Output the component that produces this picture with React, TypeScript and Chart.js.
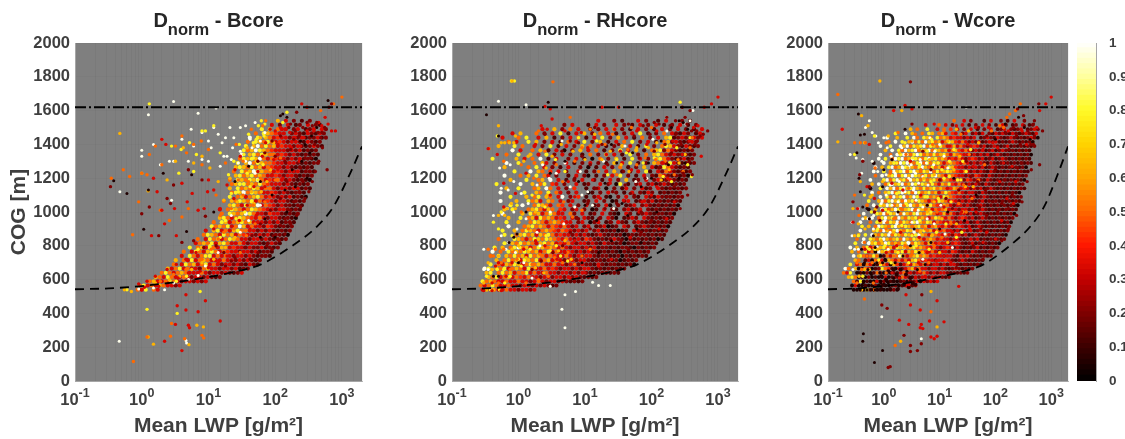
import React, { useEffect, useRef } from "react";
import { Chart, registerables } from "chart.js";

Chart.register(...registerables);

// ---------- shared values ----------
const yTicks = [0, 200, 400, 600, 800, 1000, 1200, 1400, 1600, 1800, 2000];
const xExponents = [-1, 0, 1, 2, 3];
const cbTicks = [0, 0.1, 0.2, 0.3, 0.4, 0.5, 0.6, 0.7, 0.8, 0.9, 1];
const cmapStops: number[][] = [
  [0, 0, 0, 0], [0.1, 62, 0, 0], [0.2, 128, 0, 0], [0.3, 196, 0, 0], [0.4, 255, 24, 0], [0.5, 255, 105, 0],
  [0.6, 255, 165, 0], [0.7, 255, 212, 0], [0.8, 255, 250, 40], [0.9, 255, 255, 160], [1, 255, 255, 255],
];
const topLineY = 1620;
const curveX = [0.1, 0.32, 1, 3.2, 10, 24, 53, 75, 188, 422, 750, 1334, 2000];
const curveY = [543, 548, 562, 585, 615, 645, 680, 707, 805, 914, 1033, 1230, 1388];

const levelK = 0.05, levelM = 0.2, levelR = 0.33, levelO = 0.5, levelA = 0.63, levelY = 0.78, levelW = 0.98;

// Dense part of each cloud, as read row by row: one row per COG step, one letter per LWP step, right-anchored.
const denseCodes: Record<string, number> = { k: 0.05, d: 0.13, m: 0.2, r: 0.33, e: 0.42, o: 0.5, a: 0.63, y: 0.78, w: 0.98 };
const denseRowCog = [540,565,590,615,640,665,690,715,740,765,790,815,840,865,890,915,940,965,990,1015,1040,1065,1090,1115,1140,1165,1190,1215,1240,1265,1290,1315,1340,1365,1390,1415,1440,1465,1490,1515,1540];
const denseRowEnd = [14,20,26,30,35,37,39,40,42,43,44,45,46,47,47,48,48,49,49,50,50,51,51,51,52,52,52,53,53,53,54,54,54,54,55,55,56,56,56,55,53];
const denseLogStart = -0.6, denseLogStep = 0.06;

const bRows = ["ory.or","oyroraorrmr","oarroyormrrmrmr","aoryorrormrrmrmdm","oyoroaorrrormrrmrmdmr","aroyrorrmoarrmrrmrdmm","o.ryoaroyrormrrmrmdrmd","a.oryroaorrrorrmrmrmdm","r.yoroayrorormrrmrmdmmd","o.ryorayoroerrmrrmrdmmd","y.oaryoraorerrmrmmrdmdm",".roaoyrayorrormrrmdmrmd","o.ryoaroyaorrmrrmrmdmdm",".oyaoryoaroerrmrmrdmmdk","r.ayrorayoorrmrmrmdmdm",".yoaoyrowarorrmermdmdm","o.yaroayoarrrmrmrdmmd",".ayoroyaoerormrrmdmdk","o.yaoawyorrmerrmdmdm","r.oyaoroyaoerrmrrmdmd",".ayoryoawroermrmmdmd","o.aoyaoyrorermrrmdmdm","y.oaroayorermrmrdmdk",".oyawoyaorrermrmdmmd","a.yoaoyaroormrrmrmdmd",".oayyoaoyoerrrmrmdmdm","o.yaoyaworerormrmdmdk",".ayoayoaorrermrrmdmdm","o.yoawyaoorermrmrdmmd",".ayaoyoaroerrmrmdmdmd","y.awoyaooerrmrrmdmdmm",".oyayaworoerrmrmrdmdk","w.ayoyaoorermrmdmdmd",".yoawyaoerrrmrmrdmdm","y.awoyoarerrmrmdmrmd",".o.yaoyorermrrmdrmdm","w.y.aorerrmrmrdmmrdm",".o.yaoerr.mrmdrmdrm","y.a.orr.mr.dmr.rm",".r.m.r.dm.r.md","a.r.m.d.m."];
const rRows = ["rarorrorrmrrmr","oroyorrorrmrrmrmrmdm","yoaorrorrorrmrormrrmrmdmdm",".aoyroaroerorrmrrmrrmrmrmdmdm","ay.oyoarooyrorrorrmrrmrmrmdmdmmdmd","wy.aoyroaoryorrorermrrmrmrrmdmdmdmdm","y.oraoyaroyoaorrorrmrrmrmmdrmdmmdmdmk",".a.oyoaryaoyroarormrrmrrmdmmdmdmkdmdm","o.y.aoyoaryoaoroerrormrmrrmdmmddmkmdmdmd","w.o.yoaoyaoaroyrorrermrmrmmdmdmdkmdmdmdm","y.a.oywoaroyaoaorormrrmrmrdmmdmdmmdkmdmdm","..y.aoyoaorayoarerormrrmrmdrmmdmkdmmdmdmd","o...yaoroyaoyaoerormrmermdmdmrmdkmdmdmdmkd","..y..oayoaraoyorerrmrmrmdmrmdmdmkdmdmmdmdmd","y..a.oyaoroaoeroermrmr.mrdmdmkdm.rmdmdmddm","..w...oayoaoroerormr.mr.dmrkdm.rm.dmrmdmdmk",".y..a..oyaoroaoerr.mr.kmr.dm.rmd.mrmdmdmdmd","..a..y.oaryoaorer.rm.rmd.m.rmk.dmrm.rmdmdmdm","w....a.yoaroyorr.om.r.dm.r.mdk.rm.dmrmdmmdmk",".a.y...oayorao.er.mr.m.kd.r.md.mrdmr.mdmdmdmd","..y..w..oyaor.oe.r.m.r.dm.rk.m.dmr.mrmdmdmdmk",".w...a..yoar.ao.r.mr..dm.r.m.kd.mr.dmrmrdmdmdmd","...y...a.oy.ao.rw.m.e.d.mr.dk.m.r.md.rmdrmdmdmm",".w.....y..ao.y.or.m.r..kd.m.r.m.d.r.mdrm.dmdmdm","..a..y...oa.wo.r.m.e..d.mr.k.m.dr.m.rdm.rmdmdmdm","y.....w..a.oy.er.m..r.dm..r.m.ky.d.mr.mrdmrmdmdm","...a...y..oa.w.r.d.m.r..m.d.r.m.a.dm.r.mrdmrmdmd","..w...o.a.y.or.m..d.r.mk.d.m.r.y.m.d.r.mdormdmdmk","....y...w.ao.e.r.m..r.d.m..r.a.d.m.r.yd.rmormdmdm","..a.....o.y.r.m.d.r..m.k.d.r.m.o.d.m.a.rdmyormdmd","...w..y...o.ar.m..r.d.m.r.m.d.a.r.y.d.m.aormyrmdmdm","y.....a.r.o.w.d.r..m.r.d.k.o.m.a.d.y.r.m.ayormdmrdm","..o..y..a.r.y.m.r.m..d.o.m.a.r.d.y.m.o.ayormrmdmdm","....w.r..o.a.d.r.k.m.a.r.o.d.m.y.r.a.d.oaymormdmdm",".a...y.o..r.m.y.d.r.m.a.o.r.d.m.a.r.d.y.m.oyarmdrmdm","...o.r..y.a.m.r.d.o.r.y.m.a.d.r.o.y.m.r.d.oamrmdmrm","r...o.y..r.a.d.m.r.o.d.r.y.m.a.r.d.o.m.r.aydmrmdrmr","..r.a...o.m.r.y.d.r.a.m.o.r.d.m.r.y.d.m.o.rmdrm.dr","...r..a.m.o.r..d.m.r.o.m.d.r.m.d.r.m.r.m.d.r","...m.r...d.r.m..r.m.d.r.m.r.d.m.r.d.m","..r...m.d...r.m..d.r...m.d"];
const wRows = ["kkdkkdkkdkkdmk","krkkdkkmkdkkdmkdrmdr","odykdkkdkmkdmkdmrdmrmrmrmr","ayokdkmkdkkrkdmdormdrmrrmrmrmdm","ory.kdkmkdomkdkmdrorrmrrormrmrrmdmdmdm","wo.akdorkdmyoedkrmroarorrmrrmrmdmrmdmdm","y.rokorkdyorkaedroraorormrrmrmrrmdmdmdmd",".ao.drkoyrkaorororayorerrmrrermdmrmdmdmd","w.yoroyakdoraoyoroayoaorerrmrrmdrmrmdmdmdm","a.o.yrokwayoraoyraoyaoerormrrmermdmdrmdmdmd","w.a.oyrowayoaryawoayoaoerormrermrmdmdmrdmdmdm",".y...wayoawyoaoyawoyaoraorerrmrermdmrdmdmdmdk","o.w.yaoywaoayowaoyaoroaorerrmrrmdmrmrdmdmdmdm",".a.y.waoyawoyaoyaoywaoraoerormermrdmrmdmdmdmdk","w...ayowaoywaoyawoayoaroeorrmrmrmrdmrdmdmdmdm",".y.a.owyaoywaoyaoayoaroaerormrermrdmrmdmdmdmdm","w..o.yawoyawoyaoywaoyaroerrormrmrdmrmdmdmdmdmk",".a.w.oywayowaoyayoaoroyaerormrermrdmrmdmdmdmdm","w...yawoyawoyaoywaoyaorearormrrmrdmrmdmdmdmdmk",".k.a.wyoawyoaywoyaoaroeoarermrrmrdmrmdmdmdmdmd","o.w.yawyoawoywaoyaoyoeraormrrmrmdmrmdmdmdmdmdk",".y..awoywayowayoyaoroeyaorermrmrmdmrdmdmdmdmdmd","a..w.yowaywoawyoayoaoryaoerrmrmrdmrmdmdmdmdmdm",".w.o.aywoywayowyoayoaroyaerormrrmdrmdmdmdmdmdk","k..y.wawoywaywaoyoayoaoreaorermrmrdmrmdmdmdmdmd",".a.w.oywaywoawyoyaoyoraoyerormrmrmdrmdmdmdmdmdm","w...ywoywayowayoyoayoraoerormermrmdrmdmdmdmdmdk",".o.w.aywoywawyaoyoywaoraoerrmrmermdrmdmdmdmdmdm","w..y.owaywoywaoyawoyoayaoerormrmrmdrmdmdmdmdmdd",".w.a.ywoawywaoywaoyoaroyaerrmrmrmrdmrmdmdmdmdmk","k..w.ayowywaoywoyoyaoroaoerormrmrmdrmdmdmdmdmdmd",".w.y.owywoawyaoywayoaorerormrermrdmrdmrmdmdmdmd","w..o.wywaoywyoaoyoayoraoerrmrmrmrdmrmdmdmdmdmk",".a.w.yowaywoyawoyaoaroaerormrmrdmrdmrmdmdmdmd","w..y..wawoyaywoyaoyorearormrermrdmrmdmrdmdmdmdm",".o.w.y.awoyowayoaroyaerormrmrdmrmrdmdmrmdmdmk","w..a..y.wo.yao.yoaorerrmrmr.dmrmdrmdmrmdmdmrmk","..y..w.a..o.ya.oar.er.mr.mrdr.mdrmrmdrmdmrmdr","...a.o..y..r.o.e.r.m.r.d.m.r.dmr.mdmr.dmrm","..r...o.r.m..r.d.m.r.m.d.rm.dm.r.dm","..o..r.m...d.r..m.d.r..m."];

// ---------- Bcore, single points ----------
const bBlack = [0.38,1185,0.6,1110,1.26,1130,1.07,898,2.1,1230,5.6,1220,4.7,885,130,1580,150,1560,120,1570,620,1660,250,1300,300,1200,200,1150,90,1100,150,1000,100,850,60,850,350,1450,420,1500,280,1400,60,1180,40,1270,25,1180,12,1000,240,1420,330,1350,180,1250,140,1130,70,960];
const bMaroon = [0.34,1150,1,990,1.3,1030,1.8,860,2.7,1050,3,1160,5,1250,8,1190,9,975,2.4,1080,4,820,6,830,8.5,790,13,800,17,760,22,710,30,690,42,720,55,760,75,800,95,860,120,920,140,960,170,1010,190,1060,230,1120,260,1180,300,1260,340,1320,390,1400,440,1470,480,1440,510,1380,450,1300,400,1240,360,1180,320,1120,280,1080,240,1030,210,980,170,930,140,870,115,830,90,780,70,740,200,1480,160,1500,260,1500,300,1530,360,1510,420,1530,120,1450,90,1420,70,1350,55,1300,100,1330,140,1300,170,1370,190,1430,230,1450,280,1320,330,1240,210,1210,240,1260,150,1180,120,1080,85,1010,60,930,45,860,35,790,25,730,18,680,500,1470,550,1500,600,1250,640,1620,700,1640,210,1590,170,1520];
const bRed = [2,1430,2.3,1400,1.5,1200,1.7,1120,2,1010,3.1,1020,4,1170,3.3,860,1.4,860,2.2,930,4.8,1060,5.7,1110,7,1010,8.6,1020,9.7,1120,10,1190,12,1130,12,900,9,840,6.5,760,4.6,720,3.3,690,2.4,660,1.6,620,1.2,590,15,1020,19,1160,25,1250,30,1330,24,1080,29,950,38,1040,48,1150,55,1240,64,1330,72,1410,84,1490,100,1480,120,1500,140,1490,165,1470,200,1440,240,1390,270,1440,300,1480,380,1480,500,1510,560,1560,700,1480,800,1480,620,1520,450,1530,250,1640,300,1620,110,1250,130,1200,160,1290,70,1150,90,1220,42,900,52,980,34,820,26,770,19,740,14,700,10,670,7.5,650,5,640,3.5,610,2.5,580,1.8,560,1.1,555,0.9,575,1,540,2.2,235,4,180,4.6,420,7,410,9,475,15,355,3.4,445,4.6,510,5,330,5.2,315,3.2,335,190,1240,220,1140,230,1300,175,1380,95,1310,110,1400];
const bOrange = [0.35,1200,0.53,1250,0.75,115,0.73,865,0.66,1210,1,1230,1.2,1220,1.9,1010,2.6,950,3.2,1390,4,970,5,1020,6,1400,4.7,1350,7.8,1420,0.9,1060,1.3,1340,2,1280,1.6,1390,8,1280,10,1370,13,1100,15,980,17,880,11,780,8,720,4.6,660,3,630,1.9,590,22,1020,28,1190,33,1300,26,1400,40,1180,47,1040,60,1200,70,1060,50,930,37,860,80,1260,90,1340,100,1190,120,1320,30,760,2.8,340,2.7,265,4.4,250,8.5,255,8,270,4,1450,18,1290,65,1510,44,1490,72,1540,1000,1680,750,1640,480,1600,14,840,24,900,33,1100,1.2,260];
const bAmber = [0.47,1465,1,1230,1.25,1125,2.4,1190,3.2,1300,4.2,1380,6,1290,8,1330,10.5,1260,14,1180,17,1070,21,1200,27,1060,31,950,25,850,18,790,12,720,8,700,5.6,660,3.7,620,2.6,600,1.6,580,34,1270,38,1380,44,1120,52,1300,60,1440,70,1340,48,1050,62,1120,75,1180,85,1250,95,1410,0.55,540,0.7,530,6.7,330,8.4,320,5.1,215,1.5,218,1.25,260];
const bYellow = [1.3,1640,0.6,540,1.2,424,3.4,400,7.5,530,2.8,1390,3.9,1370,5.2,1410,6.6,1340,6,1240,9,1480,12,1510,15,1350,20,1220,24,1300,29,1400,34,1340,38,1230,42,1150,47,1320,52,1430,56,1510,62,1540,68,1450,35,1000,28,1120,22,1110,26,960,18,950,15,850,10.5,800,9,740,7,780,4.7,620,3.3,590,44,1060,55,1190,66,1280,47,1410,40,1460,70,1520,150,1590,130,1530,8,1480,3.6,1230];
const bWhite = [0.47,1120,3,1654,1.26,1575,7,1585,13,1615,1,1365,1.5,1400,1,1330,1.9,1280,2.6,1300,3,1300,2.8,1070,5.5,1490,8,1470,10,1420,12,1500,14,1460,16,1410,19,1330,21,1500,23,1380,18,1440,24,1440,30,1500,36,1510,42,1430,50,1530,60,1420,30,1360,28,1290,22,1310,17,1330,6,1390,8,1310,5,1300,10,1300,15,1270,11,1380,4,1430,70,1470,45,1380,36,1300,50,1230,33,1120,60,1040,40,950,22,980,30,880,14,760,9,680,7,625,5,600,3,580,1.5,550,0.9,545,2.2,540,4.6,240,4.7,225,0.46,235];

// ---------- RHcore, single points ----------
const rBlack = [0.33,1575,2.8,1650,0.5,1450,0.72,820,0.85,850,1,700,0.95,870,1.3,1000,3,1230,5,1300,8,1180,10,1040,15,950,20,1170,30,1290,36,1050,44,980,60,900,70,1150,90,1290,120,1000,140,1420,200,1500,260,1540,300,1530,350,1490,180,1280,260,1200,320,1290,25,830,40,870,70,820,16,760,9,700,0.5,620,0.42,620,25,1400,52,1350,100,1200];
const rMaroon = [2.5,1460,4.5,1360,6,1420,7,1200,9,1330,12,1280,15,1140,18,1400,22,1280,26,1120,32,1400,38,1240,48,1110,55,1450,65,1320,80,1200,95,1460,110,1360,130,1260,160,1400,190,1510,230,1460,280,1400,340,1520,400,1480,450,1400,490,1420,540,1450,480,1480,230,1540,170,1560,130,1520,200,1350,90,1060,70,1000,55,1100,40,1160,30,1050,20,1020,16,960,12,900,25,940,35,830,45,780,70,880,100,950,130,1040,170,1090,220,1150,300,1230,370,1300,410,1220,350,1100,270,1020,700,1480,600,1460,290,1620,380,1600,320,1560,11,1050,8,960,6,880,4.6,800,3.3,760,2.2,710,1.6,660,8,1410,14,1500,45,1520,75,1510,110,1530];
const rRed = [0.35,1375,0.48,1340,0.6,1170,0.5,700,0.6,1030,0.9,1110,1.3,1230,1.8,1400,2.2,1510,2.7,1490,3.2,1410,3.2,1550,5,1480,3,1100,4,1000,5.6,1180,7,1090,8.8,1470,11,1380,13,1190,17,1080,21,1340,24,1170,28,1490,34,1360,38,1070,50,1250,60,1480,72,1060,85,1400,100,1100,120,1480,150,1290,175,1200,210,1420,250,1500,290,1340,370,1420,430,1500,500,1510,560,1330,620,1620,1000,1680,800,1640,2.5,1625,3,1610,18,1620,32,1620,7,830,5,760,3.8,720,2.5,800,1.8,830,1.2,780,0.8,700,0.65,620,0.4,580,0.45,680,0.3,535,0.4,535,0.55,535,130,900,170,960,220,1060,120,1150,65,1000,48,850,25,720,16,680,10,640,6,610];
const rOrange = [3.3,1770,0.36,1375,0.6,1300,1.1,1280,1.7,1200,2,1480,2.5,1360,3.7,1280,4.6,1180,6,1560,4.8,1060,7,1300,9,1380,12,1490,16,1240,20,1400,26,1460,30,1220,44,1370,50,1500,60,1280,80,1320,100,1500,115,1310,160,1300,220,1220,250,1310,300,1240,410,1440,380,1380,0.35,780,0.42,740,0.55,700,0.5,580,0.75,660,0.95,720,1.2,640,1.6,690,2.1,750,2.8,790,3.5,730,4.6,700,5.5,760,7,690,0.6,780,0.45,780,2.8,620,2,600,1.3,580,9,740,12,780,1.1,1000,2.4,960,3.3,900,1.4,900,6.5,970,9,1010];
const rAmber = [0.8,1775,0.5,1510,0.62,1410,0.73,1410,0.85,1410,0.9,1450,0.55,1410,1.4,1330,1.2,1300,2.6,1260,3.2,1330,4.4,1400,6.6,1360,10,1310,14,1460,18,1310,24,1360,35,1280,46,1240,60,1380,90,1380,120,1410,140,1190,185,1250,260,1290,320,1340,0.4,660,0.35,700,0.5,740,0.65,740,0.8,780,1,800,1.3,730,1.8,670,2.4,640,3.2,810,4,770,5,830,6.2,720,0.5,980,0.62,980,0.68,1020,0.78,1050,0.9,1020,1.3,1090,1.8,1000,2.7,1100,0.3,580,0.42,540];
const rYellow = [0.78,1775,0.87,1775,270,1650,0.55,1000,0.42,940,0.5,900,0.8,860,1.05,790,0.48,1450,0.95,1040,1.6,1100,2,1090,2.5,1030,3.6,1310,5,1240,8,1440,15,1420,22,1220,30,1310,42,1350,75,1290,110,1320,150,1210,200,1180,240,1380,350,1280,400,1210,0.4,660,0.48,660,0.33,620,0.6,660,0.75,620,1,720,1.1,680,1.5,780,2.6,860,3,770,3.7,800,4.3,740,5.5,710,0.38,540,0.52,540,0.62,580,380,1440];
const rWhite = [0.5,1655,1.3,1635,0.52,1260,0.55,1140,0.7,1130,0.85,1180,1.1,1110,1.4,1050,1.9,1160,2.3,1280,2.9,1200,3.7,1230,4.5,1420,5,1290,6,1150,8.5,1240,11,1120,13,1040,19,1300,27,1020,40,1390,58,1180,85,1200,105,1430,170,1480,330,1520,420,1600,0.68,1020,0.85,1000,0.55,860,0.42,980,0.3,780,0.3,660,0.35,660,0.44,780,0.7,820,0.9,760,0.65,780,0.95,900,1.3,960,1.9,880,3,1000,2.1,800,1.2,700,1.6,610,3,560,0.75,1280,5,510,7.2,530,4.5,425,5,315,13,585,16,565,24,565,170,1560,380,1540,7,1030,9,1100,4.8,930];

// ---------- Wcore, single points ----------
const wDenseK = [0.9,545,1.1,600,1.3,545,1.5,590,1.8,545,1.9,610,2.3,570,2.8,555,3,610,3.7,570,4.5,590,1.2,650,1.5,660,2,660,0.9,620,1,570,1.7,630,2.5,630,3.3,580];
const wBlack = [0.38,1455,0.35,1580,0.45,1460,0.33,1350,0.36,1200,0.38,1120,0.42,1030,0.5,1020,0.55,960,0.65,860,0.7,790,0.4,780,0.45,700,0.52,660,0.6,630,0.75,700,0.85,640,0.95,700,0.88,580,0.8,540,0.7,540,0.6,540,0.5,540,0.43,580,0.38,540,0.35,640,1,1250,0.95,1150,1.4,1310,1.8,1000,2.4,1490,3,800,3.5,900,4.3,760,5.5,690,7,820,10,900,14,1000,6,1040,18,1200,0.43,280,0.95,180,0.68,110,0.42,235,28,950,45,1100,100,1430,150,1520,260,1560,330,1500,420,1430,1.6,700,2.2,740,1.05,720,2.6,650,4,660,1.2,580,1.5,610,1.8,570,2.6,590];
const wMaroon = [0.28,1060,0.42,1300,0.37,1220,0.55,1150,0.68,1000,0.75,1030,0.85,950,3,1770,4.8,510,2.3,270,3,210,3,175,4,180,4.7,220,0.92,450,1.15,430,1.2,80,1.3,85,3.2,1520,5,1360,7,1250,10,1190,13,1080,17,1020,22,1130,30,1300,36,1210,48,1180,52,1030,66,1130,80,1320,100,1250,130,1050,150,1190,175,1370,210,1500,240,1450,280,1400,330,1510,380,1480,430,1400,480,1400,500,1450,440,1250,370,1180,300,1060,240,980,170,900,130,830,90,770,60,720,30,690,20,670,110,1000,170,1020,250,1260,300,1290,200,1100,90,1060,70,980,55,900,40,800,600,1640,500,1540,700,1480,620,1280,480,1520,320,1570,250,1610,150,1470,70,1450,50,1500];
const wRed = [0.18,1490,0.28,940,0.34,1020,0.5,1150,0.55,1400,0.68,1080,0.95,1010,1.4,1170,2.2,1130,3,1300,4.6,1100,4.5,420,3,450,2.5,510,1.9,360,2.8,335,4.5,315,5,310,6.6,355,8,250,9,265,7,260,12,350,9,475,4.7,335,22,560,8,1520,15,1390,20,1510,25,1240,32,1400,40,1270,44,1500,60,1370,75,1500,90,1410,110,1380,120,1180,140,1290,170,1480,200,1270,230,1180,300,1480,360,1400,550,1500,620,1600,800,1640,1000,1680,2.4,1630,3.2,1610,1.5,1600,12,1030,17,880,25,1000,35,900,45,1000,60,820,70,880,100,840,130,950,160,1080,210,1050,2,880,4.3,850,6,760,8.7,710,12,740,16,700,1.1,760,1.4,640,1.9,610,2.8,570,3.7,610,4.2,700,5.5,620,0.75,590,0.46,780,1.7,800];
const wOrange = [0.15,1695,0.3,1410,0.38,1410,0.47,1410,0.55,1350,0.7,1260,1.1,1410,1.8,1470,0.45,485,0.68,540,7,410,1.3,1230,1.6,210,2.5,1340,3.7,1460,4.6,1250,7.5,1400,12,1480,15,1110,24,1460,27,1160,34,1340,50,1190,64,1280,85,1480,120,1510,160,1560,0.3,1100,0.36,980,0.45,820,0.33,700,0.5,740,0.62,700,0.4,660,0.65,580,0.33,580,0.75,740,0.85,700,1.1,640,1.5,740,2.4,800,3.2,750,4.4,650,6.4,700,8,800,11,850,16,930,22,1050,30,1000,38,1080,9,1000,1.1,900,1.5,960,2,1020,2.8,1140,3.6,1010,5.5,900,230,1600,280,1640,180,1580,140,1500];
const wAmber = [0.15,1415,0.4,1570,0.45,1410,0.85,1775,2.1,1600,7,530,9,320,2,235,0.35,930,0.3,860,0.28,1020,0.38,1180,0.62,1100,0.95,1180,1.2,1450,1.9,1350,2.7,1260,3.2,1420,4.1,1380,5.2,1200,6.6,1310,8,1220,10.5,1340,14,1420,18,1250,23,1330,29,1150,40,1150,11,960,8,1060,6,1000,4.5,880,3.3,960,2.3,790,1.5,880,0.9,830,0.78,780,0.46,900,0.62,820,0.55,660,0.45,660,0.35,740,0.36,620,0.4,540,5,760,7.2,860,10,760,14,820,20,930,26,1000,0.52,1510,20,1490,33,1480,50,1410];
const wYellow = [0.3,1340,0.68,1450,1.7,1290,2.4,1410,3.3,1320,4.4,1280,6,1360,7.2,1430,9.5,1290,12,1200,15,1300,18,1370,21,1190,26,1300,30,1240,36,1370,0.45,1100,0.6,1000,0.78,900,1.2,1000,1.7,1110,2.5,1050,3.2,860,4.4,950,5.5,1090,7,1000,9.5,1080,13,930,16,1060,20,850,25,880,0.35,860,0.42,620,0.55,780,0.7,780,1.05,800,1.35,700,1.8,760,2.8,700,3.8,800,6.5,780,8.8,880,2.1,920,0.5,540,7,1180,11,1250,15,1210,24,1190];
const wWhite = [0.25,1340,0.42,1310,0.47,1500,0.55,1540,0.62,1470,0.72,1450,0.8,1410,1,1440,1.15,1380,1.35,1330,1.6,1420,2.1,1380,2.6,1340,3.1,1280,3.7,1230,4.5,1310,5.8,1290,6.7,1440,8.2,1360,10,1400,12,1330,14,1260,30,1620,0.32,1320,0.4,1230,0.62,1300,0.78,1240,0.92,1300,1.1,1220,1.3,1160,1.6,1230,1.9,1180,2.2,1260,2.8,1200,3.4,1130,4.2,1170,5,1210,6.2,1160,7.8,1280,1.1,1100,1.4,1040,1.8,1060,2.4,1120,3,1040,3.8,1070,5,1030,6,960,8,930,10.5,1040,12.5,870,17,790,0.27,940,0.27,860,0.35,1020,0.3,780,0.28,660,0.42,960,0.52,960,0.66,980,0.9,1050,0.65,900,1.05,950,1.3,880,1.7,930,2.3,990,3.2,940,4.1,1010,2.7,820,1.9,740,1.2,780,0.92,380,0.35,780,0.42,820,0.55,820,4.7,250,3.5,880,5,720];

// ---------- helpers ----------
function mapColor(v: number) {
  for (let i = 1; i < cmapStops.length; i++) {
    if (v <= cmapStops[i][0]) {
      const a = cmapStops[i - 1], b = cmapStops[i];
      const t = (v - a[0]) / (b[0] - a[0]);
      const c = [1, 2, 3].map((k) => Math.round(a[k] + (b[k] - a[k]) * t));
      return `rgb(${c[0]},${c[1]},${c[2]})`;
    }
  }
  return "rgb(255,255,255)";
}
function pairs(flat: number[]) {
  const out: { x: number; y: number }[] = [];
  for (let i = 0; i + 1 < flat.length; i += 2) out.push({ x: flat[i], y: flat[i + 1] });
  return out;
}
function readRows(rows: string[], code: string) {
  const out: { x: number; y: number }[] = [];
  rows.forEach((row, k) => {
    const shift = k % 2 ? 0.5 : 0;
    for (let p = 0; p < row.length; p++) {
      if (row[p] !== code) continue;
      const col = denseRowEnd[k] - (row.length - 1 - p) - shift;
      out.push({ x: Math.pow(10, denseLogStart + denseLogStep * col), y: denseRowCog[k] });
    }
  });
  return out;
}
const tickColor = "#3f3f3f";
const family = '"Liberation Sans", Arial, sans-serif';

const plotBg = {
  id: "plotBg",
  beforeDraw(chart: any) {
    const { ctx, chartArea: a } = chart;
    ctx.save();
    ctx.fillStyle = "#7f7f7f";
    ctx.fillRect(a.left, a.top, a.right - a.left, a.bottom - a.top);
    ctx.restore();
  },
};

const exponentLabels = {
  id: "exponentLabels",
  afterDraw(chart: any) {
    const { ctx, scales } = chart;
    ctx.save();
    ctx.fillStyle = tickColor;
    ctx.textBaseline = "alphabetic";
    ctx.textAlign = "left";
    for (const e of xExponents) {
      const px = scales.x.getPixelForValue(Math.pow(10, e));
      const exp = String(e);
      ctx.font = `bold 16.5px ${family}`;
      const w1 = ctx.measureText("10").width;
      ctx.font = `bold 12.5px ${family}`;
      const w2 = ctx.measureText(exp).width;
      const x0 = px - (w1 + w2) / 2;
      ctx.font = `bold 16.5px ${family}`;
      ctx.fillText("10", x0, 405);
      ctx.font = `bold 12.5px ${family}`;
      ctx.fillText(exp, x0 + w1, 397);
    }
    ctx.restore();
  },
};

type Cloud = { v: number; d: number[]; r: number; order: number };
type PanelDef = {
  name: string; canvasLeft: number; plotLeft: number; plotRight: number; yTitle: boolean; clouds: Cloud[]; rows: string[]; denseR: number;
};
function singles(k: number[], m: number[], r: number[], o: number[], a: number[], y: number[], w: number[]): Cloud[] {
  return [
    { v: levelW, d: w, r: 1.5, order: 20 }, { v: levelY, d: y, r: 1.7, order: 19 }, { v: levelA, d: a, r: 1.7, order: 18 },
    { v: levelO, d: o, r: 1.7, order: 17 }, { v: levelR, d: r, r: 1.7, order: 16 }, { v: levelM, d: m, r: 1.7, order: 15 }, { v: levelK, d: k, r: 1.5, order: 14 },
  ];
}
const panels: PanelDef[] = [
  { name: "Bcore", canvasLeft: 0, plotLeft: 75, plotRight: 362, yTitle: true, rows: bRows, denseR: 2.1, clouds: singles(bBlack, bMaroon, bRed, bOrange, bAmber, bYellow, bWhite) },
  { name: "RHcore", canvasLeft: 377, plotLeft: 452, plotRight: 738, yTitle: false, rows: rRows, denseR: 2.1, clouds: singles(rBlack, rMaroon, rRed, rOrange, rAmber, rYellow, rWhite) },
  { name: "Wcore", canvasLeft: 753, plotLeft: 828, plotRight: 1068, yTitle: false, rows: wRows, denseR: 1.9, clouds: [{ v: 0.07, d: wDenseK, r: 2, order: 28 }, ...singles(wBlack, wMaroon, wRed, wOrange, wAmber, wYellow, wWhite)] },
];

const PLOT_TOP = 43, PLOT_BOTTOM = 381, PAGE_H = 439, RIGHT_PAD = 16;

function Panel({ def }: { def: PanelDef }) {
  const ref = useRef<HTMLCanvasElement>(null);
  const width = def.plotRight - def.canvasLeft + RIGHT_PAD;
  useEffect(() => {
    const denseSets = Object.keys(denseCodes).map((code, i) => ({
      data: readRows(def.rows, code), pointRadius: def.denseR, pointBackgroundColor: mapColor(denseCodes[code]), pointBorderWidth: 0, showLine: false, order: 40 + i,
    }));
    const datasets: any[] = [
      { data: curveX.map((x, i) => ({ x, y: curveY[i] })), showLine: true, pointRadius: 0, borderColor: "#000", borderWidth: 1.8, borderDash: [9, 6], cubicInterpolationMode: "monotone", order: 1 },
      { data: [{ x: 0.1, y: topLineY }, { x: 2000, y: topLineY }], showLine: true, pointRadius: 0, borderColor: "#000", borderWidth: 2, borderDash: [11, 3, 2, 3], order: 2 },
      ...denseSets,
      ...def.clouds.map((c) => ({ data: pairs(c.d), pointRadius: c.r, pointBackgroundColor: mapColor(c.v), pointBorderWidth: 0, showLine: false, order: c.order })),
    ];
    const chart = new Chart(ref.current!, {
      type: "scatter",
      data: { datasets },
      plugins: [plotBg, exponentLabels],
      options: {
        animation: false, responsive: false, events: [],
        layout: { padding: { top: PLOT_TOP, right: RIGHT_PAD, bottom: 0, left: 0 } },
        plugins: { legend: { display: false }, tooltip: { enabled: false } },
        scales: {
          x: {
            type: "logarithmic", min: 0.1, max: 2000,
            afterFit: (s: any) => { s.height = PAGE_H - PLOT_BOTTOM; },
            grid: { color: "rgba(60,60,60,0.12)", lineWidth: 0.6, drawTicks: false },
            border: { color: "#a6a6a6" },
            ticks: { autoSkip: false, maxRotation: 0, padding: 6, color: tickColor, font: { family, size: 16.5, weight: "bold" }, callback: () => "" },
            title: { display: true, text: "Mean LWP [g/m²]", color: tickColor, font: { family, size: 21, weight: "bold" }, padding: { top: 0, bottom: 0 } },
          },
          y: {
            type: "linear", min: 0, max: 2000,
            afterFit: (s: any) => { s.width = def.plotLeft - def.canvasLeft; },
            afterBuildTicks: (s: any) => { s.ticks = yTicks.map((value) => ({ value })); },
            grid: { color: "rgba(60,60,60,0.07)", lineWidth: 0.6, drawTicks: false },
            border: { color: "#a6a6a6" },
            ticks: { padding: 5, color: tickColor, font: { family, size: 16.5, weight: "bold" }, callback: (v: any) => String(v) },
            title: { display: def.yTitle, text: "COG [m]", color: tickColor, font: { family, size: 21, weight: "bold" }, padding: { top: 7, bottom: 0 } },
          },
        },
      } as any,
    });
    return () => chart.destroy();
  }, []);
  const center = (def.plotLeft + def.plotRight) / 2;
  return (
    <>
      <canvas ref={ref} width={width} height={PAGE_H} style={{ position: "absolute", left: def.canvasLeft, top: 0, width, height: PAGE_H }} />
      <div style={{ position: "absolute", left: center - 150, width: 300, top: 8, textAlign: "center", font: `bold 20px ${family}`, color: "#262626", lineHeight: "24px", whiteSpace: "pre" }}>
        D<span style={{ fontSize: 16.5, position: "relative", top: 8 }}>norm</span> - {def.name}
      </div>
    </>
  );
}

function ColorBar() {
  const ref = useRef<HTMLCanvasElement>(null);
  useEffect(() => {
    const cells = Array.from({ length: 64 }, (_, i) => i);
    const chart = new Chart(ref.current!, {
      type: "bar",
      data: {
        labels: ["c"],
        datasets: cells.map((i) => ({
          data: [[i / 64, (i + 1) / 64 + 0.002]], backgroundColor: mapColor((i + 0.5) / 64), barPercentage: 1, categoryPercentage: 1, borderWidth: 0, grouped: false,
        })) as any,
      },
      options: {
        animation: false, responsive: false, events: [],
        layout: { padding: { top: PLOT_TOP, bottom: PAGE_H - PLOT_BOTTOM, left: 0, right: 0 } },
        plugins: { legend: { display: false }, tooltip: { enabled: false } },
        scales: {
          x: { display: false, stacked: false },
          y: {
            position: "right", min: 0, max: 1,
            afterFit: (s: any) => { s.width = 29; },
            afterBuildTicks: (s: any) => { s.ticks = cbTicks.map((value) => ({ value })); },
            grid: { display: false },
            border: { color: "#a6a6a6" },
            ticks: { padding: 5, color: tickColor, font: { family, size: 13.5, weight: "bold" }, callback: (v: any) => String(v) },
          },
        },
      } as any,
    });
    return () => chart.destroy();
  }, []);
  return <canvas ref={ref} width={48} height={PAGE_H} style={{ position: "absolute", left: 1077, top: 0, width: 48, height: PAGE_H }} />;
}

export default function App() {
  return (
    <div style={{ position: "absolute", left: 0, top: 0, width: 1125, height: 439, overflow: "hidden", background: "#fff", filter: "blur(0.45px)" }}>
      {panels.map((p) => <Panel key={p.name} def={p} />)}
      <ColorBar />
    </div>
  );
}
